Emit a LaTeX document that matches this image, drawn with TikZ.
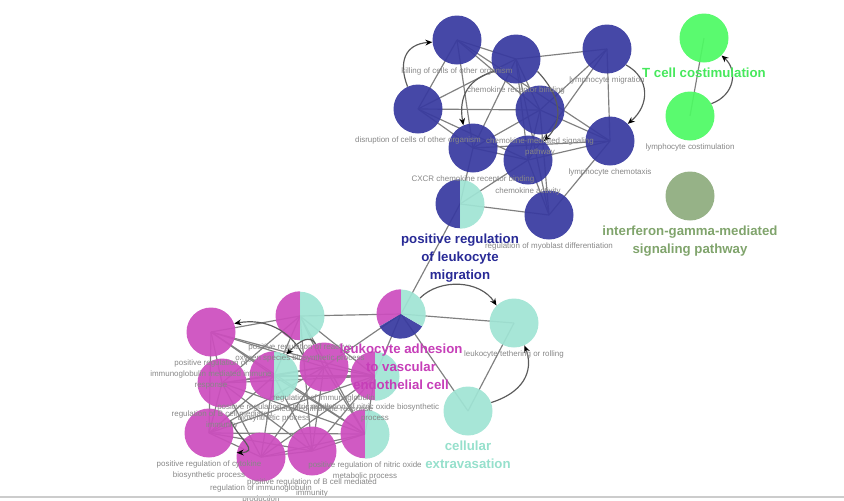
\documentclass[tikz,border=0pt]{standalone}
\usepackage{fontspec}
\setmainfont{Liberation Sans}
\usetikzlibrary{arrows.meta}
\usetikzlibrary{backgrounds}

\definecolor{goblue}{RGB}{56,58,160}
\definecolor{gomag}{RGB}{204,78,190}
\definecolor{goteal}{RGB}{160,228,212}
\definecolor{gogreen}{RGB}{78,250,100}
\definecolor{goolive}{RGB}{142,172,126}
\definecolor{linkgray}{RGB}{128,128,128}
\definecolor{arrowgray}{RGB}{90,90,90}
\definecolor{termgray}{RGB}{135,135,135}
\definecolor{bluetext}{RGB}{40,42,150}
\definecolor{magtext}{RGB}{198,62,184}
\definecolor{tealtext}{RGB}{150,224,204}
\definecolor{greentext}{RGB}{70,232,92}
\definecolor{olivetext}{RGB}{128,164,108}

\newcommand{\termr}{0.735cm}
\newcommand{\halfterm}[3]{%
	\fill[#2] (#1.north) arc[start angle=90, end angle=270, radius=\termr] -- cycle;
	\fill[#3] (#1.south) arc[start angle=-90, end angle=90, radius=\termr] -- cycle;}

\begin{document}
\begin{tikzpicture}[x=0.03cm, y=-0.03cm,
	term/.style={circle, minimum size=1.47cm, inner sep=0pt},
	link/.style={draw=linkgray, line width=1pt},
	arr/.style={draw=arrowgray, line width=1pt, -{Stealth[length=6pt, width=5pt, black]}},
	termlabel/.style={text=termgray, font=\fontsize{6.8}{9.4}\selectfont, align=center, anchor=north, inner sep=0pt, yshift=-2.7pt},
	grouplabel/.style={font=\fontsize{11.3}{15.4}\selectfont\bfseries, align=center, anchor=north, inner sep=0pt, yshift=-4.4pt}]

	\useasboundingbox (0,0) rectangle (844,500);

	\begin{scope}[fill opacity=0.93]
	\node[term, fill=goblue] (B1) at (457,40) {};
	\node[term, fill=goblue] (B2) at (516,59) {};
	\node[term, fill=goblue] (B3) at (607,49) {};
	\node[term, fill=goblue] (B4) at (418,109) {};
	\node[term, fill=goblue] (B5) at (540,110) {};
	\node[term, fill=goblue] (B6) at (610,141) {};
	\node[term, fill=goblue] (B7) at (473,148) {};
	\node[term, fill=goblue] (B8) at (528,160) {};
	\node[term, fill=goblue] (B9) at (549,215) {};
	\node[term] (PL) at (460,204) {};
	\halfterm{PL}{goblue}{goteal}

	\node[term, fill=gogreen] (G1) at (704,38) {};
	\node[term, fill=gogreen] (G2) at (690,116) {};
	\node[term, fill=goolive] (IG) at (690,196) {};

	\node[term] (Pie) at (401,314) {};
	\fill[gomag] (Pie.center) -- (Pie.90) arc[start angle=90, end angle=210, radius=\termr] -- cycle;
	\fill[goblue] (Pie.center) -- (Pie.210) arc[start angle=210, end angle=330, radius=\termr] -- cycle;
	\fill[goteal] (Pie.center) -- (Pie.330) arc[start angle=-30, end angle=90, radius=\termr] -- cycle;
	\node[term, fill=goteal] (TR) at (514,323) {};
	\node[term, fill=goteal] (CE) at (468,411) {};

	\node[term, fill=gomag] (M1) at (211,332) {};
	\node[term] (M2) at (300,316) {};
	\halfterm{M2}{gomag}{goteal}
	\node[term, fill=gomag] (M7) at (222,383) {};
	\node[term, fill=gomag] (M3) at (324,367) {};
	\node[term] (M4) at (274,376) {};
	\halfterm{M4}{gomag}{goteal}
	\node[term] (M5) at (375,376) {};
	\halfterm{M5}{gomag}{goteal}
	\node[term, fill=gomag] (M6) at (209,433) {};
	\node[term, fill=gomag] (M8) at (261,457) {};
	\node[term, fill=gomag] (M9) at (312,451) {};
	\node[term] (M10) at (365,434) {};
	\halfterm{M10}{gomag}{goteal}
	\end{scope}

	\begin{scope}[on background layer]
	\foreach \a/\b in {B1/B2, B1/B4, B1/B7, B1/B5, B1/B6, B2/B3, B2/B4, B2/B7, B2/B5, B2/B8, B2/B9,
		B3/B5, B3/B6, B3/B8, B4/B5, B4/B7, B4/B8, B5/B6, B5/B7, B5/B8, B5/B9, B6/B7, B6/B8, B6/B9,
		B7/B8, B7/PL, PL/B8, PL/B9, B8/B9, PL/Pie, G1/G2,
		Pie/TR, Pie/CE, TR/CE, Pie/M2, Pie/M5, Pie/M3,
		M1/M2, M1/M3, M1/M4, M1/M5, M1/M6, M1/M7, M1/M10, M2/M3, M2/M4, M2/M5, M2/M7, M2/M9, M2/M10,
		M3/M4, M3/M5, M3/M6, M3/M7, M3/M8, M3/M9, M3/M10, M4/M5, M4/M6, M4/M7, M4/M8, M4/M9, M4/M10,
		M5/M6, M5/M7, M5/M8, M5/M9, M5/M10, M6/M7, M6/M8, M6/M9, M6/M10, M7/M8, M7/M9, M7/M10,
		M8/M9, M8/M10, M9/M10}
		\draw[link] (\a.center) -- (\b.center);
	\end{scope}

	\draw[arr] (B4.115) .. controls (398,62) and (405,44) .. (B1.185);
	\draw[arr] (B3.-40) .. controls (650,78) and (650,105) .. (B6.44);
	\draw[arr] (B2.210) .. controls (470,78) and (458,95) .. (B7.113);
	\draw[arr] (B2.-30) .. controls (560,95) and (565,120) .. (B8.50);
	\draw[arr] (G2.30) .. controls (735,95) and (738,70) .. (G1.-45);
	\draw[arr] (Pie.40) .. controls (440,278) and (480,280) .. (TR.135);
	\draw[arr] (CE.20) .. controls (530,390) and (532,365) .. (TR.-65);
	\draw[arr] (M3.150) .. controls (290,330) and (265,318) .. (M1.20);
	\draw[arr] (M3.110) .. controls (310,335) and (300,340) .. (M4.60);
	\draw[arr] (M6.30) .. controls (240,440) and (260,452) .. (M8.170);

	\node[termlabel] (B1l) at (B1.south) {killing of cells of other organism};
	\node[termlabel] (B2l) at (B2.south) {chemokine receptor binding};
	\node[termlabel] (B3l) at (B3.south) {lymphocyte migration};
	\node[termlabel] (B4l) at (B4.south) {disruption of cells of other organism};
	\node[termlabel] (B5l) at (B5.south) {chemokine-mediated signaling\\pathway};
	\node[termlabel] (B6l) at (B6.south) {lymphocyte chemotaxis};
	\node[termlabel] (B7l) at (B7.south) {CXCR chemokine receptor binding};
	\node[termlabel] (B8l) at (B8.south) {chemokine activity};
	\node[termlabel] (B9l) at (B9.south) {regulation of myoblast differentiation};
	\node[termlabel] (G2l) at (G2.south) {lymphocyte costimulation};
	\node[termlabel] (TRl) at (TR.south) {leukocyte tethering or rolling};

	\node[termlabel] (M1l) at (M1.south) {positive regulation of\\immunoglobulin mediated immune\\response};
	\node[termlabel] (M2l) at (M2.south) {positive regulation of reactive\\oxygen species biosynthetic process};
	\node[termlabel] (M3l) at (M3.south) {regulation of immunoglobulin\\mediated immune response};
	\node[termlabel] (M4l) at (M4.south) {positive regulation of nitric oxide\\biosynthetic process};
	\node[termlabel] (M5l) at (M5.south) {regulation of nitric oxide biosynthetic\\process};
	\node[termlabel] (M6l) at (M6.south) {positive regulation of cytokine\\biosynthetic process};
	\node[termlabel] (M7l) at (M7.south) {regulation of B cell mediated\\immunity};
	\node[termlabel] (M8l) at (M8.south) {regulation of immunoglobulin\\production};
	\node[termlabel] (M9l) at (M9.south) {positive regulation of B cell mediated\\immunity};
	\node[termlabel] (M10l) at (M10.south) {positive regulation of nitric oxide\\metabolic process};

	\node[grouplabel, text=bluetext] (PLl) at (PL.south) {positive regulation\\of leukocyte\\migration};
	\node[grouplabel, text=magtext] (Piel) at (Pie.south) {leukocyte adhesion\\to vascular\\endothelial cell};
	\node[grouplabel, text=tealtext] (CEl) at (CE.south) {cellular\\extravasation};
	\node[grouplabel, text=greentext] (G1l) at (G1.south) {T cell costimulation};
	\node[grouplabel, text=olivetext] (IGl) at (IG.south) {interferon-gamma-mediated\\signaling pathway};

	\draw[black!20, line width=1pt] (0,497) -- (844,497);
\end{tikzpicture}
\end{document}
